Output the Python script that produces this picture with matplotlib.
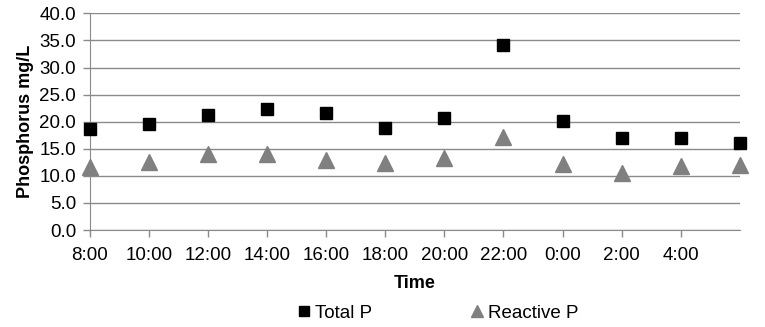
import matplotlib.pyplot as plt

# time labels (last sample has no label on the axis)
times = ['8:00', '10:00', '12:00', '14:00', '16:00', '18:00',
         '20:00', '22:00', '0:00', '2:00', '4:00', '']
total_p = [18.6, 19.5, 21.2, 22.4, 21.6, 18.8, 20.6, 34.1, 20.1, 17.0, 17.0, 16.1]
reactive_p = [11.7, 12.5, 14.1, 14.1, 12.9, 12.4, 13.3, 17.2, 12.1, 10.6, 11.9, 12.0]

plt.rcParams['font.family'] = ['Liberation Sans', 'DejaVu Sans']

fig = plt.figure(figsize=(7.65, 3.27), dpi=100)
ax = fig.add_axes([0.1176, 0.2966, 0.8494, 0.6624])

x = list(range(len(times)))
ax.plot(x, total_p, linestyle='none', marker='s', markersize=9,
        color='black', label='Total P', clip_on=False, zorder=3)
ax.plot(x, reactive_p, linestyle='none', marker='^', markersize=11,
        color='#808080', label='Reactive P', clip_on=False, zorder=3)

ax.set_ylim(0, 40)
ax.set_xlim(0, len(times) - 1)
ax.set_yticks(range(0, 41, 5))
ax.set_yticklabels([f'{v:.1f}' for v in range(0, 41, 5)], fontsize=13.5)
ax.set_xticks(x[:-1])
ax.set_xticklabels(times[:-1], fontsize=13.5)

ax.yaxis.grid(True, color='#8a8a8a', linewidth=1)
ax.set_axisbelow(True)
for s in ['top', 'right']:
    ax.spines[s].set_visible(False)
for s in ['left', 'bottom']:
    ax.spines[s].set_color('#8a8a8a')
ax.tick_params(axis='both', colors='#8a8a8a', labelcolor='black', length=5, width=1)
ax.tick_params(axis='x', pad=7)
ax.tick_params(axis='y', pad=5)

ax.set_ylabel('Phosphorus mg/L', fontsize=13, fontweight='bold', labelpad=4)
ax.set_xlabel('Time', fontsize=13, fontweight='bold', labelpad=8)

fig.legend(loc='lower center', bbox_to_anchor=(0.572, -0.035), ncol=2, frameon=False,
           fontsize=13.5, handlelength=0.8, handletextpad=0.2, columnspacing=5.2,
           markerscale=0.85)

fig.savefig('out.png', dpi=100)
